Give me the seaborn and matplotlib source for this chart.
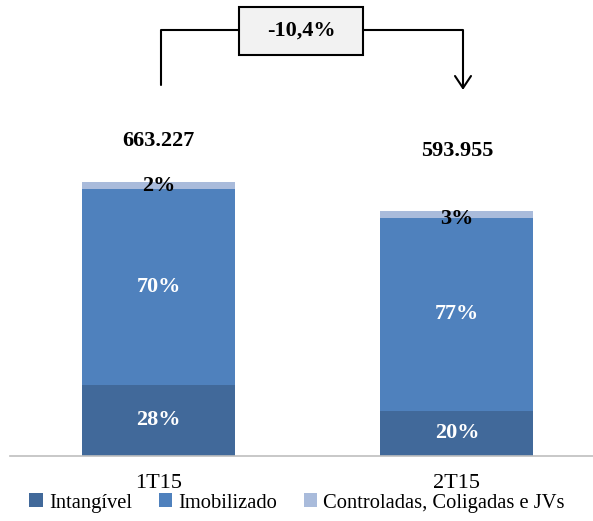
import pandas as pd
import seaborn as sns
import matplotlib.pyplot as plt
from matplotlib.patches import Patch, Rectangle
from matplotlib.lines import Line2D

# data (milhares)
periodos = ['1T15', '2T15']
intangivel = [171.1, 108.7]
imobilizado = [475.8, 467.6]
controladas = [16.3, 17.7]
totais = ['663.227', '593.955']
pct_intangivel = ['28%', '20%']
pct_imobilizado = ['70%', '77%']
pct_controladas = ['2%', '3%']
variacao = '-10,4%'
series = ['Intangível', 'Imobilizado', 'Controladas, Coligadas e JVs']

cores = ['#41699A', '#4F81BD', '#A9BBDB']

sns.set_style('white')
plt.rcParams['font.family'] = 'Liberation Serif'
plt.rcParams['text.color'] = 'black'
plt.rcParams['xtick.color'] = 'black'

W, H = 593, 521
fig = plt.figure(figsize=(W / 100, H / 100), dpi=100)
ax = fig.add_axes([10 / W, 1 - 455.5 / H, 583 / W, 455.5 / H])

df = pd.DataFrame({'periodo': periodos, 'intangivel': intangivel,
                   'imobilizado': imobilizado, 'controladas': controladas})
df['base2'] = df.intangivel + df.imobilizado

kw = dict(saturation=1, width=0.513, linewidth=0, ax=ax)
sns.barplot(data=df, x='periodo', y='intangivel', color=cores[0], **kw)
sns.barplot(data=df, x='periodo', y='imobilizado', bottom=df.intangivel, color=cores[1], **kw)
sns.barplot(data=df, x='periodo', y='controladas', bottom=df.base2, color=cores[2], **kw)

ax.set_xlim(-0.4975, 1.456)
ax.set_ylim(0, 1105.4)
ax.set_xlabel('')
ax.set_ylabel('')
ax.set_yticks([])
for s in ['left', 'right', 'top']:
    ax.spines[s].set_visible(False)
ax.spines['bottom'].set_color('#BFBFBF')
ax.spines['bottom'].set_linewidth(1.2)
ax.tick_params(axis='x', length=0, pad=13, labelsize=16, labelcolor='black')

# rotulos dentro das barras
for i in range(len(periodos)):
    b0, b1 = intangivel[i], imobilizado[i]
    ax.text(i, b0 / 2, pct_intangivel[i], ha='center', va='center', color='white',
            fontsize=16, fontweight='bold')
    ax.text(i, b0 + b1 / 2, pct_imobilizado[i], ha='center', va='center', color='white',
            fontsize=16, fontweight='bold')
ajuste = [0, -3]
for i in range(len(periodos)):
    topo = intangivel[i] + imobilizado[i] + controladas[i] / 2
    ax.annotate(pct_controladas[i], (i, topo), xytext=(0, ajuste[i]), textcoords='offset points',
                ha='center', va='center', color='black', fontsize=16, fontweight='bold')

# totais acima das barras
offsets = [30, 43]
for i in range(len(periodos)):
    topo = intangivel[i] + imobilizado[i] + controladas[i]
    ax.annotate(totais[i], (i, topo), xytext=(0, offsets[i]), textcoords='offset points',
                ha='center', va='center', fontsize=16, fontweight='bold')


# conector com variacao (coordenadas em pixels da figura)
def px(x, y):
    return (x / W, 1 - y / H)


lw = 1.5
segs = [[(160.7, 85), (160.7, 29.5), (239, 29.5)],
        [(363, 29.5), (463, 29.5), (463, 88)],
        [(455, 76), (463, 88), (471, 76)]]
for seg in segs:
    xs, ys = zip(*[px(*p) for p in seg])
    fig.add_artist(Line2D(xs, ys, color='black', lw=lw, transform=fig.transFigure))

x0, y0 = px(239, 55)
fig.add_artist(Rectangle((x0, y0), 124 / W, 48 / H, facecolor='#F2F2F2',
                         edgecolor='black', lw=lw, transform=fig.transFigure))
fig.text(*px(301, 31), variacao, ha='center', va='center', fontsize=16, fontweight='bold')

handles = [Patch(facecolor=c, edgecolor='none') for c in cores]
fig.legend(handles, series, loc='center', bbox_to_anchor=px(297, 503), ncol=3,
           frameon=False, fontsize=14.8, handlelength=0.65, handleheight=0.65,
           handletextpad=0.3, columnspacing=1.3)

fig.savefig('out.png', dpi=100)
